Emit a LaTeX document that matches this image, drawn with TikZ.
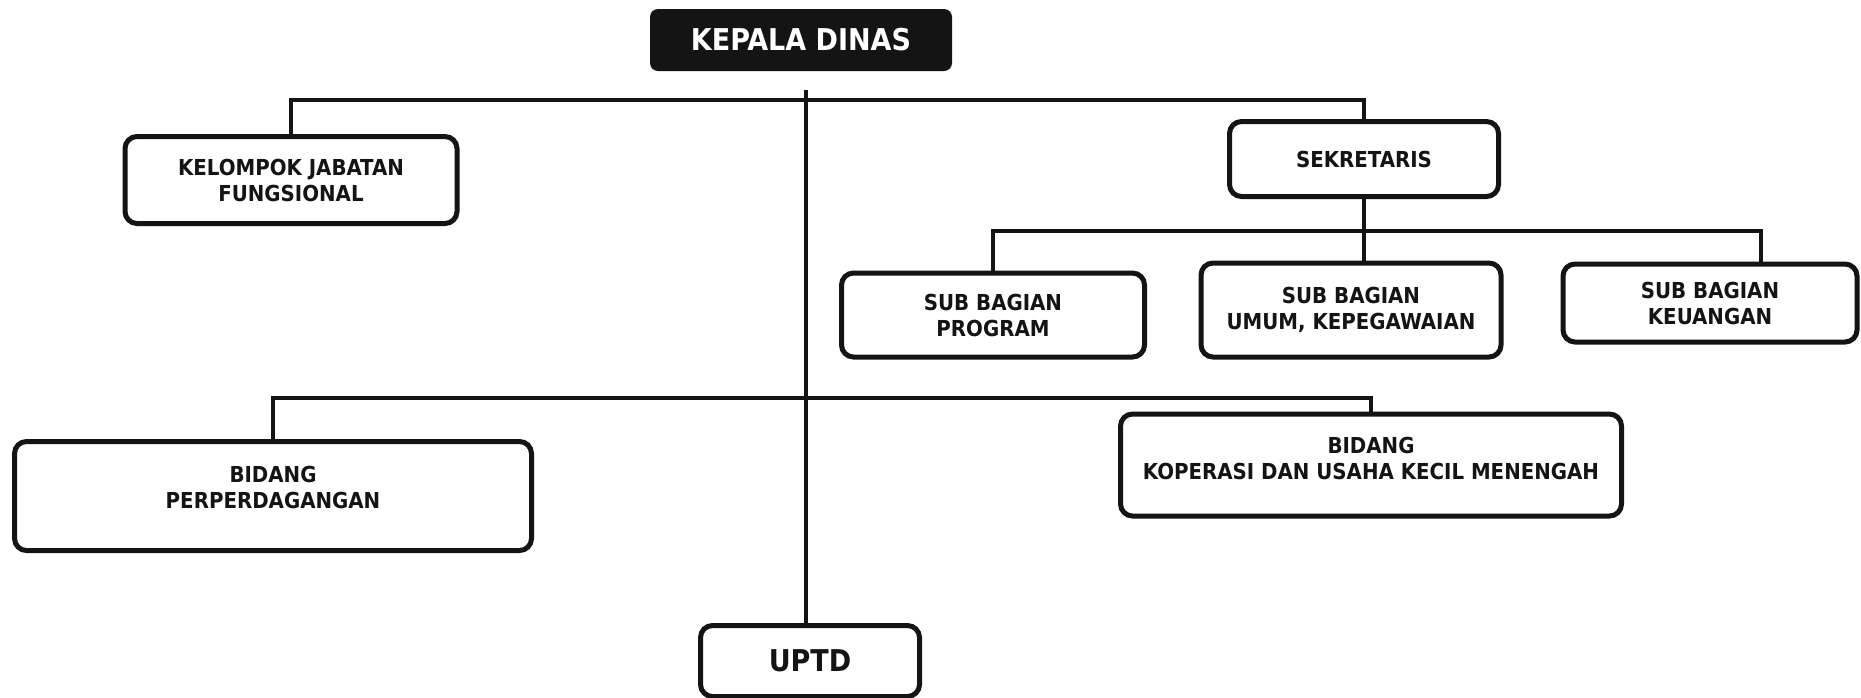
\documentclass[tikz,border=0pt]{standalone}
\usepackage{fontspec}
\setmainfont{DejaVu Sans Condensed}
\definecolor{ink}{HTML}{141414}
\begin{document}
\begin{tikzpicture}[x=1pt,y=-1pt,
  box/.style={draw=ink, line width=5pt, rounded corners=12pt, fill=white, align=center,
    text=ink, inner sep=0pt, font=\bfseries\fontsize{22}{26}\selectfont},
  headbox/.style={fill=ink, rounded corners=8pt, text=white, inner sep=0pt,
    font=\bfseries\fontsize{30}{34}\selectfont},
  txt/.style={align=center, text=ink, inner sep=0pt, font=\bfseries\fontsize{22}{26}\selectfont},
  conn/.style={draw=ink, line width=4.5pt, line join=miter}]
\fill[white] (0,0) rectangle (1861,697);
\useasboundingbox (0,0) rectangle (1861,697);
% nodes
\node[headbox, minimum width=302pt, minimum height=62pt] (kd) at (801,40) {KEPALA DINAS};
\node[box, minimum width=332pt, minimum height=87pt] (kel) at (291,180) {KELOMPOK JABATAN\\FUNGSIONAL};
\node[box, minimum width=269pt, minimum height=75pt] (sek) at (1364,159) {SEKRETARIS};
\node[box, minimum width=303pt, minimum height=84pt] (prog) at (993,315) {SUB BAGIAN\\PROGRAM};
\node[box, minimum width=300pt, minimum height=94pt] (umum) at (1351,310) {SUB BAGIAN\\UMUM, KEPEGAWAIAN};
\node[box, minimum width=294pt, minimum height=78pt] (keu) at (1710,303) {SUB BAGIAN\\KEUANGAN};
\node[box, minimum width=517pt, minimum height=109pt] (perp) at (273,496) {};
\node[txt] (perpT) at (273,487) {BIDANG\\PERPERDAGANGAN};
\node[box, minimum width=501pt, minimum height=102pt] (kop) at (1371,465) {};
\node[txt] (kopT) at (1371,458) {BIDANG\\KOPERASI DAN USAHA KECIL MENENGAH};
\node[box, minimum width=219pt, minimum height=71pt, font=\bfseries\fontsize{30}{34}\selectfont] (uptd) at (810,661) {UPTD};
% junction coordinates
\coordinate (mtop) at (806,90);
\coordinate (tb) at (806,100);
\coordinate (sb) at (1364,231);
\coordinate (bb) at (806,398);
% connectors
\draw[conn] (mtop) -- (mtop |- uptd.north);
\draw[conn] (kel.north) |- (tb) -| (sek.north);
\draw[conn] (sek.south) -- (sek.south |- umum.north);
\draw[conn] (prog.north) |- (sb) -| ([xshift=51pt]keu.north);
\draw[conn] (perp.north) |- (bb) -| (kop.north);
\end{tikzpicture}
\end{document}
